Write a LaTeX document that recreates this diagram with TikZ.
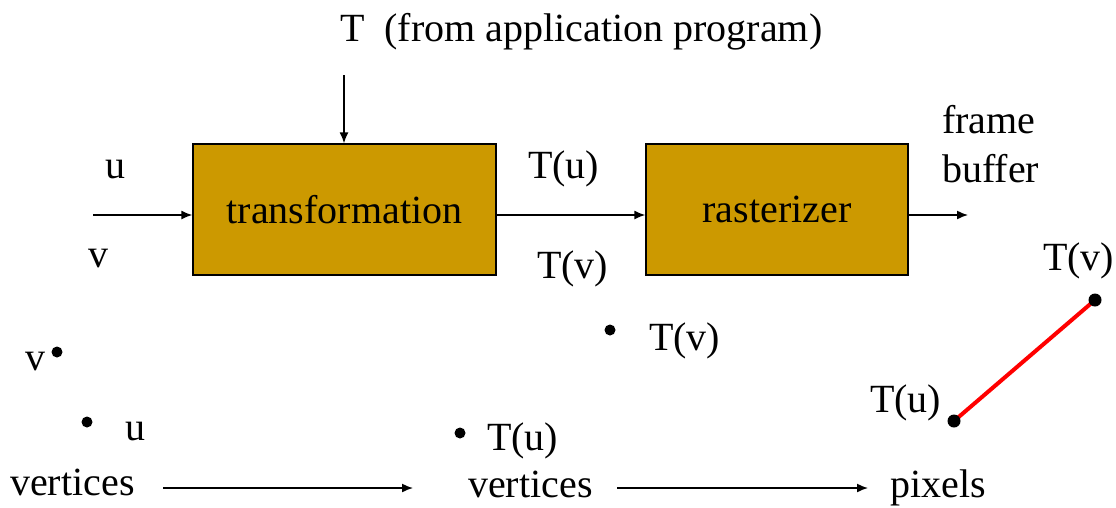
\documentclass[tikz,border=0pt]{standalone}
\usepackage{fontspec}
\setmainfont{Liberation Serif}
\usetikzlibrary{arrows.meta}
\definecolor{boxgold}{HTML}{CC9900}
\begin{document}
\begin{tikzpicture}[x=1pt,y=-1pt,
  lbl/.style={inner sep=0pt,anchor=base west,font=\fontsize{40}{48}\selectfont},
  blk/.style={draw=black,line width=1.3pt,fill=boxgold,inner sep=0pt,
    font=\fontsize{40}{48}\selectfont,text depth=0pt},
  arr/.style={line width=1.5pt,-{Latex[length=11pt,width=9pt]}},
  dot/.style={circle,fill=black,inner sep=0pt,minimum size=11pt},
  bigdot/.style={circle,fill=black,inner sep=0pt,minimum size=13pt},
  seg/.style={red,line width=4pt}]
\useasboundingbox (0,0) rectangle (1116,507);
% blocks
\node[blk,minimum width=303pt,minimum height=131pt] (trans) at (344.5,209.5) {transformation};
\node[blk,minimum width=262pt,minimum height=131pt] (ras) at (777,209.5) {rasterizer};
% top label and arrow
\node[lbl] (title) at (340,41) {T\hspace{20pt}(from application program)};
\coordinate (topA) at (344,75);
\draw[arr] (topA) -- (topA |- trans.north);
% flow arrows
\coordinate (inA) at (93,215);
\coordinate (outA) at (968,215);
\draw[arr] (inA) -- (inA -| trans.west);
\draw[arr] (trans.east |- inA) -- (ras.west |- inA);
\draw[arr] (ras.east |- inA) -- (outA);
% labels near blocks
\node[lbl] (lu) at (105,178) {u};
\node[lbl] (lv) at (88,267) {v};
\node[lbl] (ltu) at (528,178) {T(u)};
\node[lbl] (ltv) at (537,278) {T(v)};
\node[lbl] (frame) at (942,133) {frame};
\node[lbl] (buffer) at (942,182) {buffer};
% bottom left: vertices
\node[dot] (dv) at (57,352) {};
\node[lbl] (bv) at (25,370) {v};
\node[dot] (du) at (87,422) {};
\node[lbl] (bu) at (125,440) {u};
\node[lbl] (vert1) at (10,495) {vertices};
% bottom middle: transformed vertices
\node[dot] (dtv) at (610,330) {};
\node[lbl] (btv) at (649,350) {T(v)};
\node[dot] (dtu) at (460,433) {};
\node[lbl] (btu) at (487,450) {T(u)};
\node[lbl] (vert2) at (468,497) {vertices};
% bottom right: pixels
\coordinate (pu) at (954,421);
\coordinate (pv) at (1095,300);
\draw[seg] (pu) -- (pv);
\node[bigdot] (dpu) at (pu) {};
\node[bigdot] (dpv) at (pv) {};
\node[lbl] (ptu) at (870,412) {T(u)};
\node[lbl] (ptv) at (1043,270) {T(v)};
\node[lbl] (pix) at (890,497) {pixels};
% bottom arrows
\coordinate (a1s) at (163,488);
\coordinate (a1e) at (413,488);
\coordinate (a2s) at (617,488);
\coordinate (a2e) at (868,488);
\draw[arr] (a1s) -- (a1e);
\draw[arr] (a2s) -- (a2e);
\end{tikzpicture}
\end{document}
